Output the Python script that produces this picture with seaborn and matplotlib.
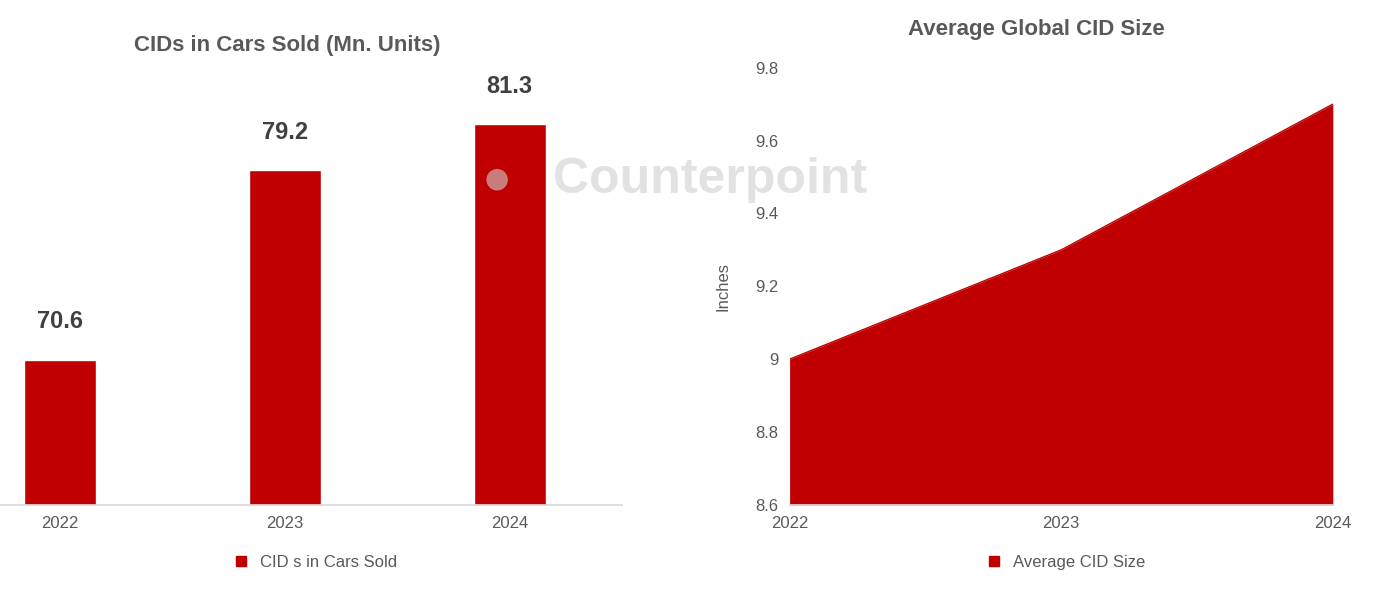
import matplotlib
matplotlib.use("Agg")
import matplotlib.pyplot as plt
import seaborn as sns
from matplotlib.lines import Line2D

years = ["2022", "2023", "2024"]
cid_units = [70.6, 79.2, 81.3]
cid_size = [9.0, 9.3, 9.7]
size_ticks = [8.6, 8.8, 9.0, 9.2, 9.4, 9.6, 9.8]
size_tick_labels = ["8.6", "8.8", "9", "9.2", "9.4", "9.6", "9.8"]

sns.set_theme(style="white")
plt.rcParams['font.family'] = ['Liberation Sans', 'DejaVu Sans']
RED = "#C00000"
GREY = "#595959"

fig = plt.figure(figsize=(14, 5.94), dpi=100)
ax1 = fig.add_axes([0.0, 0.15, 0.444, 0.741])
ax2 = fig.add_axes([0.564, 0.15, 0.388, 0.736])

sns.barplot(x=years, y=cid_units, color=RED, width=0.32, ax=ax1, saturation=1)
ax1.set_ylim(64, 84)
ax1.set_xlim(-0.267, 2.498)
ax1.set_yticks([])
for s in ["top", "right", "left"]:
    ax1.spines[s].set_visible(False)
ax1.spines["bottom"].set_color("#d9d9d9")
ax1.tick_params(axis="x", labelsize=12, colors=GREY, length=0, pad=8)
for i, v in enumerate(cid_units):
    ax1.text(i, v + 1.2, f"{v}", ha="center", va="bottom", fontsize=17, fontweight="bold", color="#404040")
ax1.legend(handles=[Line2D([], [], marker="s", color=RED, ls="", markersize=7)],
           labels=["CID s in Cars Sold"], loc="upper center", bbox_to_anchor=(0.5, -0.08),
           frameon=False, fontsize=12, labelcolor=GREY, handletextpad=0.1)
fig.text(0.205, 1 - 45 / 594, "CIDs in Cars Sold (Mn. Units)", ha="center", va="center",
         fontsize=16, fontweight="bold", color=GREY)

xs = [0, 1, 2]
ax2.fill_between(xs, 8.6, cid_size, color=RED, lw=0)
sns.lineplot(x=xs, y=cid_size, color=RED, ax=ax2, lw=1)
ax2.set_xlim(0, 2)
ax2.set_ylim(8.6, 9.8)
ax2.set_yticks(size_ticks)
ax2.set_yticklabels(size_tick_labels)
ax2.set_xticks(xs)
ax2.set_xticklabels(years)
for s in ["top", "right", "left"]:
    ax2.spines[s].set_visible(False)
ax2.spines["bottom"].set_color("#d9d9d9")
ax2.tick_params(axis="both", labelsize=12, colors=GREY, length=0, pad=8)
ax2.set_ylabel("Inches", fontsize=12, color=GREY, labelpad=18)
ax2.legend(handles=[Line2D([], [], marker="s", color=RED, ls="", markersize=7)],
           labels=["Average CID Size"], loc="upper center", bbox_to_anchor=(0.5, -0.08),
           frameon=False, fontsize=12, labelcolor=GREY, handletextpad=0.1)
fig.text(0.74, 1 - 30 / 594, "Average Global CID Size", ha="center", va="center",
         fontsize=16, fontweight="bold", color=GREY)

fig.text(0.355, 1 - 180 / 594, "\u25CF", ha="center", va="center", fontsize=36, color="#d0d0d0", alpha=0.6)
fig.text(0.395, 1 - 180 / 594, "Counterpoint", ha="left", va="center", fontsize=36,
         fontweight="bold", color="#d0d0d0", alpha=0.6)

fig.savefig("out.png", dpi=100)
